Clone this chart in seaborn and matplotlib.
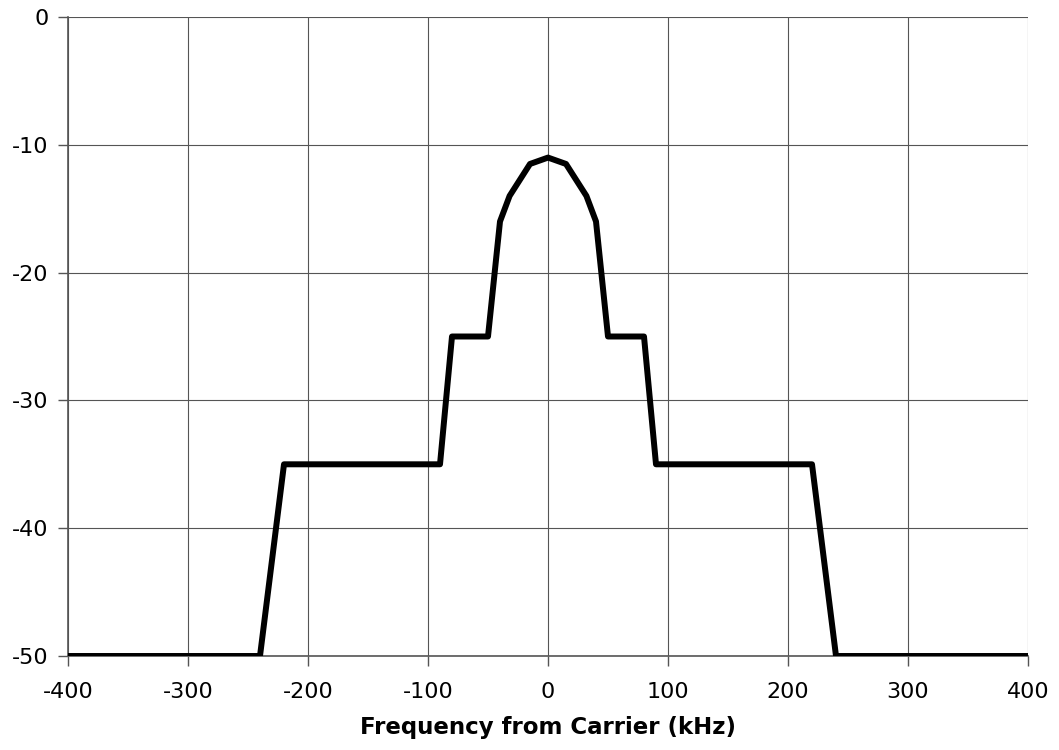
import matplotlib
matplotlib.use("Agg")
import matplotlib.pyplot as plt
import seaborn as sns
import pandas as pd

freq_khz = [-400, -240, -220, -90, -80, -50, -40, -32, -15, 0, 15, 32, 40, 50, 80, 90, 220, 240, 400]
level_db = [-50, -50, -35, -35, -25, -25, -16, -14, -11.5, -11, -11.5, -14, -16, -25, -25, -35, -35, -50, -50]
x_ticks = [-400, -300, -200, -100, 0, 100, 200, 300, 400]
y_ticks = [-50, -40, -30, -20, -10, 0]
x_label = "Frequency from Carrier (kHz)"

sns.set_theme(style="white")
plt.rcParams['font.family'] = ['DejaVu Sans']

df = pd.DataFrame({"f": freq_khz, "l": level_db})

fig = plt.figure(figsize=(10.59, 7.5), dpi=100)
ax = fig.add_axes([68/1059, 1-656/750, (1028-68)/1059, (656-17)/750])
sns.lineplot(data=df, x="f", y="l", sort=False, color="black", linewidth=4.3, ax=ax, zorder=3)
ax.set_xlim(-400, 400)
ax.set_ylim(-50, 0)
ax.set_xticks(x_ticks)
ax.set_yticks(y_ticks)
ax.set_xticklabels([str(t) for t in x_ticks])
ax.set_yticklabels([str(t) for t in y_ticks])
ax.grid(True, color="#555555", linewidth=0.8)
for s in ["top", "right"]:
    ax.spines[s].set_visible(False)
for s in ["left", "bottom"]:
    ax.spines[s].set_color("#555555")
    ax.spines[s].set_linewidth(1.2)
ax.tick_params(axis="both", which="major", direction="out", length=7, width=1, color="#555555",
               labelsize=16, labelcolor="black", bottom=True, left=True)
ax.tick_params(axis="x", pad=12)
ax.tick_params(axis="y", pad=7)
ax.set_xlabel(x_label, fontsize=16.5, fontweight="bold", color="black", labelpad=10)
ax.set_ylabel("")
fig.savefig("out.png", dpi=100)
